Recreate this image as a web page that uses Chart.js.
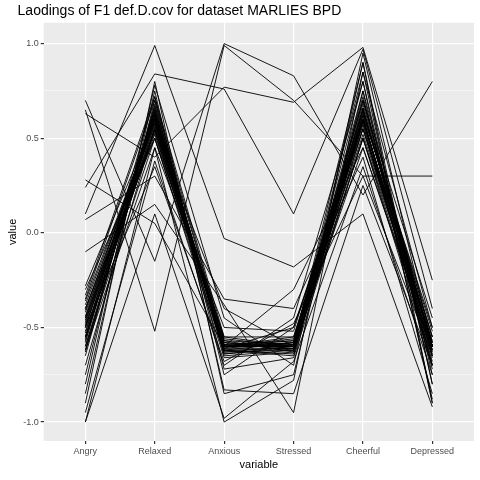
<!DOCTYPE html>
<html><head><meta charset="utf-8">
<script src="https://cdn.jsdelivr.net/npm/chart.js@4/dist/chart.umd.min.js"></script>
<style>html,body{margin:0;padding:0;background:#fff}#w{width:480px;height:480px}</style>
</head><body><div id="w"><canvas id="c"></canvas></div>
<script>
const categories = ["Angry","Relaxed","Anxious","Stressed","Cheerful","Depressed"];
const yTicks = [-1.0,-0.5,0.0,0.5,1.0];
const angry = [-0.45,-0.5,-0.55,-0.6,-0.4,-0.35,-0.3,-0.62,-0.48,-0.52,-0.58,-0.42,-0.38,-0.65,-0.55,-0.47,-0.5,-0.44,-0.6,-0.33,-0.7,-0.28,-0.57,-0.46,-0.53,-0.41,-0.63,-0.49,-0.36,-0.56,0.7,0.65,0.63,0.24,0.1,0.07,-0.1,-0.85,-0.9,-1.0,-1.0,-0.95,-0.75,-0.8,-0.62,-0.5,-0.45,-0.55,0.28,-0.4];
const relaxed = [0.6,0.65,0.55,0.62,0.58,0.7,0.5,0.64,0.6,0.57,0.66,0.53,0.6,0.68,0.55,0.62,0.59,0.63,0.5,0.72,0.56,0.6,0.65,0.52,0.58,0.61,0.67,0.54,0.6,0.63,-0.15,-0.52,0.4,0.84,0.99,0.3,0.15,0.75,0.8,0.45,0.1,0.38,0.7,0.78,0.45,0.35,0.55,0.72,0.05,0.5];
const anxious = [-0.6,-0.62,-0.58,-0.64,-0.6,-0.57,-0.63,-0.6,-0.61,-0.59,-0.62,-0.6,-0.56,-0.65,-0.6,-0.58,-0.62,-0.6,-0.66,-0.55,-0.61,-0.6,-0.63,-0.59,-0.6,-0.62,-0.57,-0.64,-0.6,-0.61,1.0,0.99,0.77,0.76,-0.03,-0.35,-0.38,-0.83,-0.85,-1.0,-0.98,-0.7,-0.75,-0.45,-0.5,-0.68,-0.4,-0.72,-0.6,-0.55];
const stressed = [-0.6,-0.58,-0.62,-0.6,-0.55,-0.63,-0.6,-0.57,-0.61,-0.6,-0.64,-0.59,-0.6,-0.62,-0.56,-0.6,-0.61,-0.58,-0.63,-0.6,-0.5,-0.6,-0.62,-0.57,-0.6,-0.65,-0.59,-0.61,-0.6,-0.58,0.83,0.7,0.69,0.1,-0.18,-0.4,-0.95,-0.85,-0.75,-0.78,-0.68,-0.45,-0.5,-0.7,-0.52,-0.48,-0.6,-0.66,-0.3,-0.55];
const cheerful = [0.6,0.65,0.55,0.7,0.6,0.5,0.75,0.62,0.58,0.66,0.6,0.52,0.8,0.68,0.57,0.63,0.6,0.72,0.55,0.85,0.6,0.64,0.5,0.7,0.62,0.59,0.9,0.45,0.66,0.6,0.2,0.3,0.98,0.97,0.1,0.4,0.85,0.25,0.75,0.95,0.35,0.8,0.55,0.9,0.65,0.3,0.7,0.5,0.45,0.6];
const depressed = [-0.6,-0.55,-0.65,-0.6,-0.7,-0.58,-0.62,-0.5,-0.68,-0.6,-0.63,-0.57,-0.75,-0.6,-0.66,-0.52,-0.6,-0.7,-0.62,-0.8,-0.6,-0.55,-0.64,-0.6,-0.72,-0.58,-0.9,-0.6,-0.65,-0.6,0.8,0.3,-0.25,-0.4,-0.92,-0.85,-0.5,-0.7,-0.88,-0.6,-0.75,-0.9,-0.55,-0.8,-0.6,-0.65,-0.45,-0.7,-0.62,-0.58];
const cols=[angry,relaxed,anxious,stressed,cheerful,depressed];
const datasets=angry.map((_,i)=>({data:cols.map((c,j)=>({x:j,y:c[i]})),borderColor:'#000',borderWidth:0.9,pointRadius:0,fill:false}));
const bg={id:'bg',beforeDraw(ch){const a=ch.chartArea,x=ch.ctx;x.save();x.fillStyle='#EBEBEB';x.fillRect(a.left,a.top,a.right-a.left,a.bottom-a.top);x.restore();}};
new Chart(document.getElementById('c'),{type:'line',data:{datasets},plugins:[bg],
options:{responsive:true,maintainAspectRatio:false,animation:false,
layout:{padding:{left:2,right:6,top:0,bottom:4}},
plugins:{legend:{display:false},tooltip:{enabled:false},
title:{display:true,text:'    Laodings of F1 def.D.cov for dataset MARLIES BPD',align:'start',color:'#000',font:{family:'Liberation Sans',size:14,weight:'normal'},padding:{top:3,bottom:3}}},
scales:{
x:{type:'linear',min:-0.6,max:5.6,afterBuildTicks(s){s.ticks=categories.map((_,i)=>({value:i}));},
ticks:{callback:v=>categories[v],color:'#4D4D4D',font:{family:'Liberation Sans',size:9},autoSkip:false,maxRotation:0,padding:2},
grid:{color:'#fff',lineWidth:1.2,tickColor:'#333',tickLength:3},border:{display:false},
title:{display:true,text:'variable',color:'#000',font:{family:'Liberation Sans',size:11},padding:{top:0}}},
y:{min:-1.1,max:1.11,afterBuildTicks(s){const t=[];for(let v=-1;v<=1.001;v+=0.25)t.push({value:Math.round(v*100)/100});s.ticks=t;},
ticks:{callback:v=>yTicks.includes(v)?v.toFixed(1):'',color:'#4D4D4D',font:{family:'Liberation Sans',size:9},autoSkip:false,padding:2},
grid:{color:'#fff',lineWidth:c=>yTicks.includes(c.tick&&c.tick.value)?1.2:0.5,tickColor:c=>yTicks.includes(c.tick&&c.tick.value)?'#333':'rgba(0,0,0,0)',tickLength:3},border:{display:false},
title:{display:true,text:'value',color:'#000',font:{family:'Liberation Sans',size:11},padding:{bottom:2}}}}}});
</script></body></html>
